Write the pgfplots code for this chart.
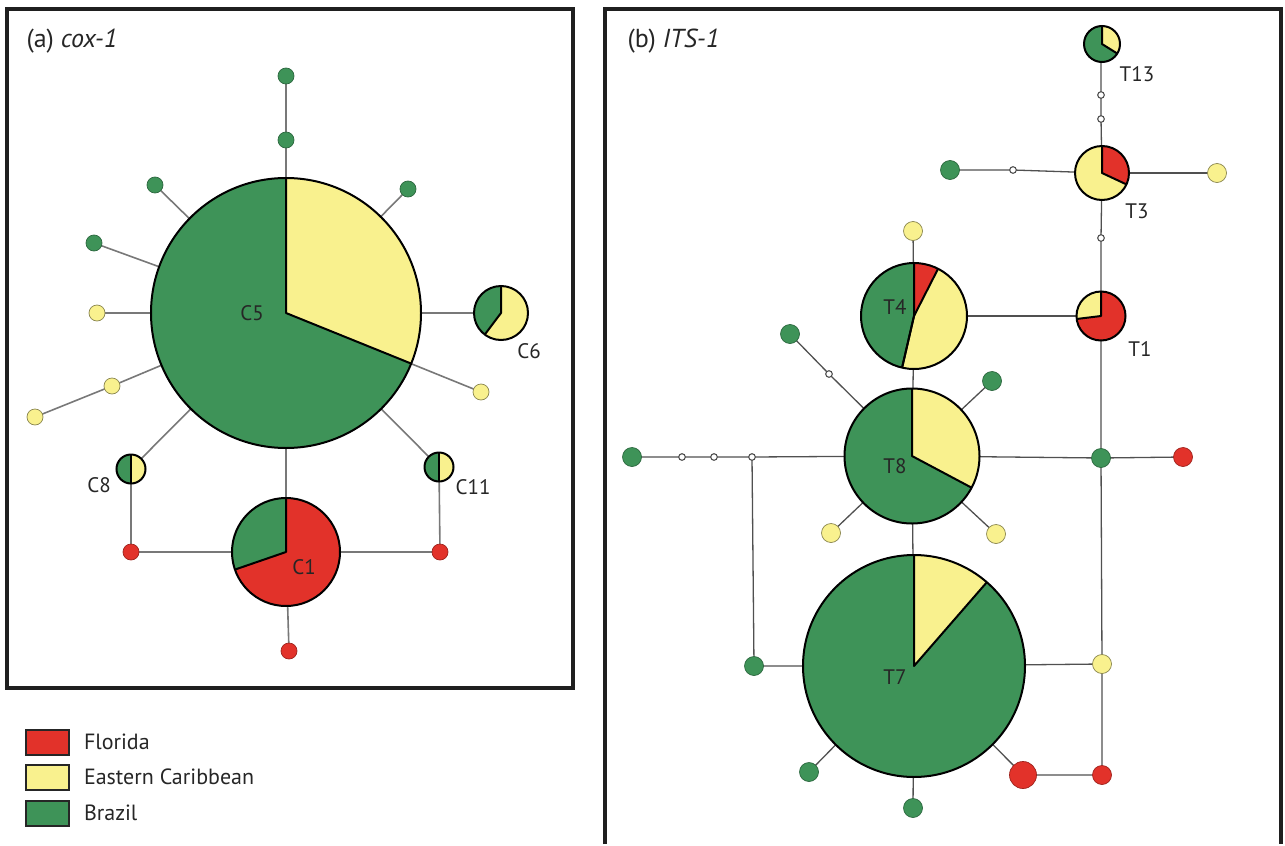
\documentclass[border=0pt]{standalone}
\usepackage{fontspec}
\setmainfont{PT Sans}
\usepackage{pgfplots}
\pgfplotsset{compat=1.18}
\definecolor{flred}{RGB}{226,50,42}
\definecolor{ecyel}{RGB}{249,241,142}
\definecolor{brgrn}{RGB}{62,147,88}
\definecolor{edgeA}{RGB}{120,120,120}
\definecolor{edgeB}{RGB}{80,80,80}
% pie sector: x y r start end colour
\newcommand{\sect}[6]{\fill[#6] (axis cs:#1,#2) -- ++(#4:#3pt) arc[start angle=#4,end angle=#5,radius=#3pt] -- cycle;}
\newcommand{\rim}[3]{\draw[black,line width=2pt] (axis cs:#1,#2) circle[radius=#3pt];}
\newcommand{\spk}[5]{\draw[black,line width=2pt,line join=round] (axis cs:#1,#2) ++(#4:#3pt) -- (axis cs:#1,#2) -- ++(#5:#3pt);}
\newcommand{\lab}[3]{\node[font=\fontsize{21}{21}\selectfont,text=black!85] at (axis cs:#1,#2) {#3};}
\begin{document}
\begin{tikzpicture}
\begin{axis}[
  x=1pt, y=1pt, y dir=reverse,
  xmin=0, xmax=1285, ymin=0, ymax=844,
  hide axis, clip=false,
  legend style={at={(axis cs:25,729)}, anchor=north west, draw=none, fill=none,
    font=\fontsize{22}{24}\selectfont, row sep=8.5pt, inner sep=0pt,
    nodes={inner sep=0pt, text=black!85},
    /tikz/every odd column/.style={column sep=14pt}},
  legend cell align=left,
  legend image post style={xscale=2.52, yscale=4.39},
]
% ---------- legend (first, so that the entries attach to these images)
\addlegendimage{area legend, fill=flred, draw=black!85, line width=1.8pt}
\addlegendentry{Florida}
\addlegendimage{area legend, fill=ecyel, draw=black!85, line width=1.8pt}
\addlegendentry{Eastern Caribbean}
\addlegendimage{area legend, fill=brgrn, draw=black!85, line width=1.8pt}
\addlegendentry{Brazil}

\path (axis cs:0,0) rectangle (axis cs:1285,844);
% frames
\draw[black!88,line width=3.5pt] (axis cs:7,9) rectangle (axis cs:573,688);
\draw[black!88,line width=3.5pt] (axis cs:605,844) -- (axis cs:605,9) -- (axis cs:1281,9) -- (axis cs:1281,844);

% ---------- panel (a) edges
\addplot[edgeA, line width=1.6pt, forget plot] coordinates {(286,313) (286,140) (286,76)};
\addplot[edgeA, line width=1.6pt, forget plot] coordinates {(286,313) (155,185)};
\addplot[edgeA, line width=1.6pt, forget plot] coordinates {(286,313) (408,189)};
\addplot[edgeA, line width=1.6pt, forget plot] coordinates {(286,313) (94,243)};
\addplot[edgeA, line width=1.6pt, forget plot] coordinates {(286,313) (97,313)};
\addplot[edgeA, line width=1.6pt, forget plot] coordinates {(286,313) (112,386) (35,417)};
\addplot[edgeA, line width=1.6pt, forget plot] coordinates {(286,313) (481,392)};
\addplot[edgeA, line width=1.6pt, forget plot] coordinates {(286,313) (501,313)};
\addplot[edgeA, line width=1.6pt, forget plot] coordinates {(286,313) (131,469) (131,552) (286,552)};
\addplot[edgeA, line width=1.6pt, forget plot] coordinates {(286,313) (439,467) (440,552) (286,552)};
\addplot[edgeA, line width=1.6pt, forget plot] coordinates {(286,313) (286,552) (289,651)};

% ---------- panel (b) edges
\addplot[edgeB, line width=1.3pt, forget plot] coordinates {(1101,43) (1101,95) (1101,119) (1102,173)};
\addplot[edgeB, line width=1.3pt, forget plot] coordinates {(1102,173) (1013,170) (950,170)};
\addplot[edgeB, line width=1.3pt, forget plot] coordinates {(1102,173) (1217,173)};
\addplot[edgeB, line width=1.3pt, forget plot] coordinates {(1102,173) (1101,238) (1101,316)};
\addplot[edgeB, line width=1.3pt, forget plot] coordinates {(914,316) (1101,316)};
\addplot[edgeB, line width=1.3pt, forget plot] coordinates {(913,231) (914,316) (912,456) (914,665) (913,808)};
\addplot[edgeB, line width=1.3pt, forget plot] coordinates {(912,456) (829,374) (790,334)};
\addplot[edgeB, line width=1.3pt, forget plot] coordinates {(912,456) (992,381)};
\addplot[edgeB, line width=1.3pt, forget plot] coordinates {(912,456) (831,533)};
\addplot[edgeB, line width=1.3pt, forget plot] coordinates {(912,456) (996,534)};
\addplot[edgeB, line width=1.3pt, forget plot] coordinates {(632,457) (682,457) (714,457) (752,457) (912,456) (1101,458) (1183,457)};
\addplot[edgeB, line width=1.3pt, forget plot] coordinates {(752,457) (754,666) (914,666) (1102,664)};
\addplot[edgeB, line width=1.3pt, forget plot] coordinates {(1101,316) (1101,458) (1102,664) (1102,775) (1023,775) (914,665)};
\addplot[edgeB, line width=1.3pt, forget plot] coordinates {(914,665) (809,772)};

% ---------- pies panel (a)
\sect{286}{313}{135}{-22}{90}{ecyel}\sect{286}{313}{135}{90}{338}{brgrn}
\rim{286}{313}{135}\spk{286}{313}{135}{90}{-22}
\sect{501}{313}{27}{90}{233}{brgrn}\sect{501}{313}{27}{233}{450}{ecyel}
\rim{501}{313}{27}\spk{501}{313}{27}{90}{233}
\sect{131}{469}{14.5}{90}{270}{brgrn}\sect{131}{469}{14.5}{270}{450}{ecyel}
\rim{131}{469}{14.5}\spk{131}{469}{14.5}{90}{270}
\sect{439}{467}{14.5}{90}{270}{brgrn}\sect{439}{467}{14.5}{270}{450}{ecyel}
\rim{439}{467}{14.5}\spk{439}{467}{14.5}{90}{270}
\sect{286}{552}{54}{90}{199}{brgrn}\sect{286}{552}{54}{199}{450}{flred}
\rim{286}{552}{54}\spk{286}{552}{54}{90}{199}

% ---------- pies panel (b)
\sect{1102}{44}{18}{-32}{90}{ecyel}\sect{1102}{44}{18}{90}{328}{brgrn}
\rim{1102}{44}{18}\spk{1102}{44}{18}{90}{-32}
\sect{1102}{173}{27}{-25}{90}{flred}\sect{1102}{173}{27}{90}{335}{ecyel}
\rim{1102}{173}{27}\spk{1102}{173}{27}{90}{-25}
\sect{914}{316}{53}{63}{90}{flred}\sect{914}{316}{53}{-103}{63}{ecyel}\sect{914}{316}{53}{90}{257}{brgrn}
\rim{914}{316}{53}\spk{914}{316}{53}{90}{-103}\spk{914}{316}{53}{63}{-103}
\sect{1101}{316}{24.5}{90}{187}{ecyel}\sect{1101}{316}{24.5}{187}{450}{flred}
\rim{1101}{316}{24.5}\spk{1101}{316}{24.5}{90}{187}
\sect{912}{456}{67.5}{-28}{90}{ecyel}\sect{912}{456}{67.5}{90}{332}{brgrn}
\rim{912}{456}{67.5}\spk{912}{456}{67.5}{90}{-28}
\sect{914}{666}{111}{49}{90}{ecyel}\sect{914}{666}{111}{90}{409}{brgrn}
\rim{914}{666}{111}\spk{914}{666}{111}{90}{49}

% ---------- small haplotypes panel (a)
\addplot[only marks, forget plot, mark=*, mark size=8pt, mark options={fill=brgrn, draw=brgrn!70!black, line width=0.7pt}]
  table[row sep=\\]{x y\\ 286 76\\ 286 140\\ 155 185\\ 408 189\\ 94 243\\};
\addplot[only marks, forget plot, mark=*, mark size=8pt, mark options={fill=ecyel, draw=ecyel!55!black, line width=0.7pt}]
  table[row sep=\\]{x y\\ 97 313\\ 112 386\\ 35 417\\ 481 392\\};
\addplot[only marks, forget plot, mark=*, mark size=8pt, mark options={fill=flred, draw=flred!70!black, line width=0.7pt}]
  table[row sep=\\]{x y\\ 131 552\\ 440 552\\ 289 651\\};

% ---------- small haplotypes panel (b)
\addplot[only marks, forget plot, mark=*, mark size=9.5pt, mark options={fill=brgrn, draw=brgrn!70!black, line width=0.7pt}]
  table[row sep=\\]{x y\\ 950 170\\ 790 334\\ 992 381\\ 632 457\\ 1101 458\\ 754 666\\ 809 772\\ 913 808\\};
\addplot[only marks, forget plot, mark=*, mark size=9.5pt, mark options={fill=ecyel, draw=ecyel!55!black, line width=0.7pt}]
  table[row sep=\\]{x y\\ 1217 173\\ 913 231\\ 831 533\\ 996 534\\ 1102 664\\};
\addplot[only marks, forget plot, mark=*, mark size=9.5pt, mark options={fill=flred, draw=flred!70!black, line width=0.7pt}]
  table[row sep=\\]{x y\\ 1183 457\\ 1102 775\\};
\addplot[only marks, forget plot, mark=*, mark size=13.5pt, mark options={fill=flred, draw=flred!70!black, line width=0.7pt}]
  table[row sep=\\]{x y\\ 1023 775\\};
% median vectors
\addplot[only marks, forget plot, mark=*, mark size=3.3pt, mark options={fill=white, draw=edgeB, line width=1.1pt}]
  table[row sep=\\]{x y\\ 1101 95\\ 1101 119\\ 1013 170\\ 1101 238\\ 829 374\\ 682 457\\ 714 457\\ 752 457\\};

% ---------- labels
\node[anchor=west,font=\fontsize{26}{26}\selectfont,text=black!85] at (axis cs:23,41) {(a) \textit{cox-1}};
\node[anchor=west,font=\fontsize{26}{26}\selectfont,text=black!85] at (axis cs:624,41) {(b) \textit{ITS-1}};
\lab{252}{313}{C5}\lab{529}{351}{C6}\lab{99}{485}{C8}\lab{473}{487}{C11}\lab{304}{567}{C1}
\lab{1137}{74}{T13}\lab{1137}{211}{T3}\lab{895}{307}{T4}\lab{1140}{349}{T1}\lab{895}{466}{T8}\lab{895}{677}{T7}
\end{axis}
\end{tikzpicture}
\end{document}
